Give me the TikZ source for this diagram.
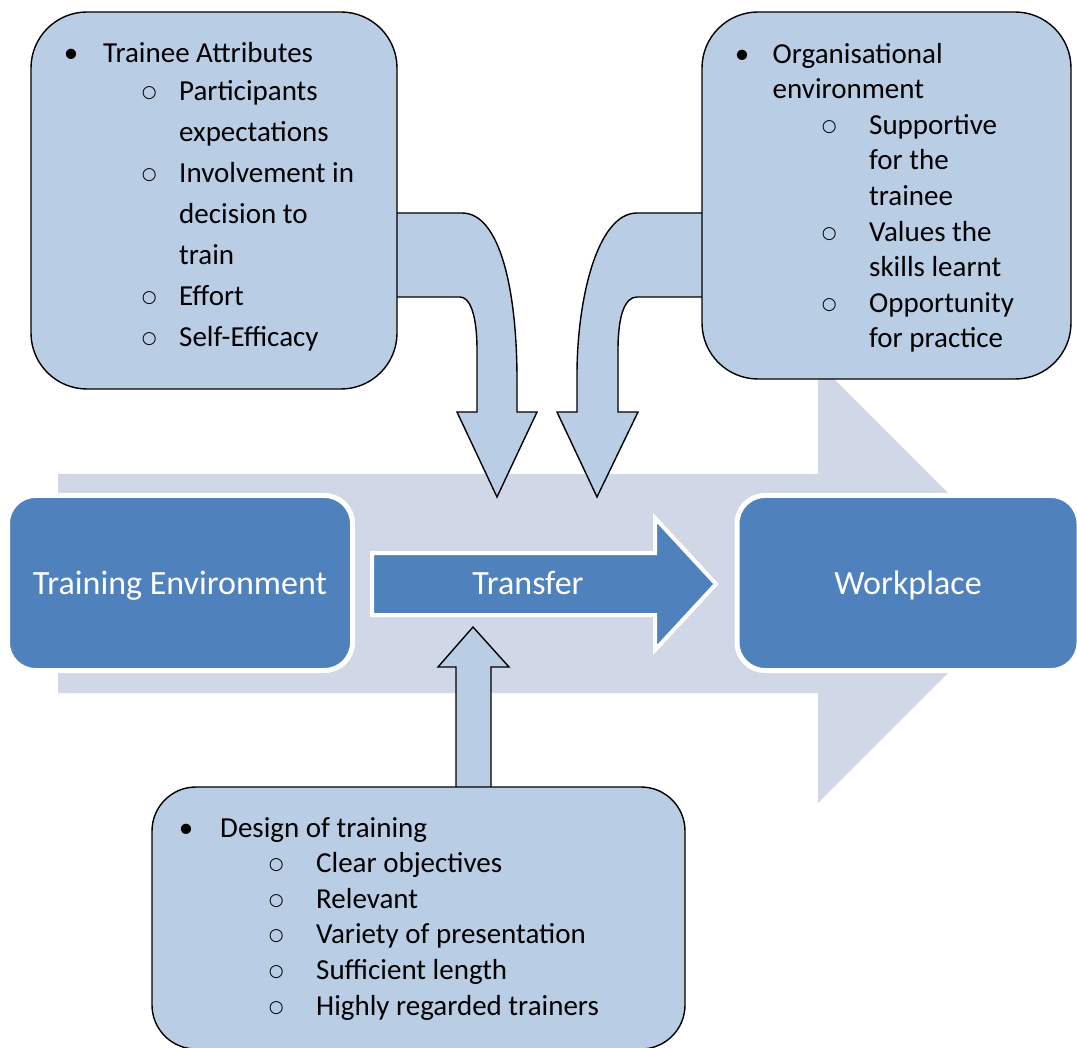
\documentclass[tikz,border=0pt]{standalone}
\usepackage{fontspec}
\setmainfont{Carlito}
\newfontfamily\markfont{DejaVu Sans}

\definecolor{panelblue}{HTML}{B9CDE5}
\definecolor{flowgrey}{HTML}{D0D8E8}
\definecolor{stageblue}{HTML}{4F81BD}

% list markers
\newcommand{\bul}{\makebox[0pt]{\textbullet}}
\newcommand{\hol}{\makebox[0pt]{\raisebox{3pt}{\markfont\fontsize{17pt}{17pt}\selectfont ○}}}

\tikzset{
  stage/.style={draw=white, line width=5pt, fill=stageblue, rounded corners=28pt,
    text=white, font=\fontsize{34pt}{40pt}\selectfont, text height=22pt, text depth=0pt},
  panel/.style={draw=black, line width=1.4pt, fill=panelblue, rounded corners=56pt},
  blockarrow/.style={draw=black, line width=1.4pt, fill=panelblue, line join=miter},
  listtext/.style={anchor=base west, inner sep=0pt, align=left},
}

\begin{document}
\begin{tikzpicture}[x=1pt, y=-1pt]
    \useasboundingbox (0,0) rectangle (1077,1048);

    % Wide background arrow
    \fill[flowgrey] (58,474) -- (818,474) -- (818,363) -- (1038,583) -- (818,803)
        -- (818,693) -- (58,693) -- cycle;

    % Stages
    \node[stage, minimum width=345pt, minimum height=175pt] (train) at (180,583)
        {Training Environment};
    \node[stage, minimum width=342pt, minimum height=175pt] (work) at (908,583)
        {Workplace};

    % Transfer arrow between the stages
    \path[draw=white, line width=4pt, fill=stageblue, line join=miter] (372,553)
        -- (655,553) -- (655,518) -- (716,584) -- (655,650) -- (655,615)
        -- (372,615) -- cycle;
    \node[text=white, font=\fontsize{34pt}{40pt}\selectfont, text height=22pt,
        text depth=0pt] (transfer) at (528,583) {Transfer};

    % Influences pointing into the transfer
    \draw[blockarrow] (390,213) -- (462,213) .. controls (500,213) and (517,290)
        .. (517,380) -- (517,412) -- (537,412) -- (497,497) -- (457,412)
        -- (477,412) -- (477,350) .. controls (477,315) and (470,297)
        .. (460,297) -- (390,297);
    \draw[blockarrow] (710,213) -- (637,213) .. controls (597,213) and (577,300)
        .. (577,375) -- (577,412) -- (557,412) -- (597,497) -- (638,412)
        -- (618,412) -- (618,350) .. controls (618,315) and (625,297)
        .. (637,297) -- (710,297);
    \draw[blockarrow] (456,800) -- (456,667) -- (438,667) -- (473,627)
        -- (509,667) -- (491,667) -- (491,800);

    % Factor panels
    \node[panel, minimum width=366pt, minimum height=377pt] (trainee) at (214,200.5) {};
    \node[panel, minimum width=369pt, minimum height=367pt] (org) at (886.5,195.5) {};
    \node[panel, rounded corners=44pt, minimum width=533pt, minimum height=262pt]
        (design) at (418.5,918) {};

    % lists sit on the baseline of their last line
    \node[listtext, font=\fontsize{29pt}{41pt}\selectfont] (traineelist) at (71,347)
        {\bul\hspace{32pt}Trainee Attributes\\[-3pt]
        \hspace*{78pt}\hol\hspace{30pt}Participants\\
        \hspace*{108pt}expectations\\
        \hspace*{78pt}\hol\hspace{30pt}Involvement in\\
        \hspace*{108pt}decision to\\
        \hspace*{108pt}train\\
        \hspace*{78pt}\hol\hspace{30pt}Effort\\
        \hspace*{78pt}\hol\hspace{30pt}Self-Efficacy};

    \node[listtext, font=\fontsize{29pt}{35.6pt}\selectfont] (orglist) at (742,348)
        {\bul\hspace{30.5pt}Organisational\\
        \hspace*{30.5pt}environment\\
        \hspace*{87pt}\hol\hspace{40pt}Supportive\\
        \hspace*{127pt}for the\\
        \hspace*{127pt}trainee\\
        \hspace*{87pt}\hol\hspace{40pt}Values the\\
        \hspace*{127pt}skills learnt\\
        \hspace*{87pt}\hol\hspace{40pt}Opportunity\\
        \hspace*{127pt}for practice};

    \node[listtext, font=\fontsize{29pt}{35.6pt}\selectfont] (designlist) at (186,1015)
        {\bul\hspace{34pt}Design of training\\
        \hspace*{90pt}\hol\hspace{40pt}Clear objectives\\
        \hspace*{90pt}\hol\hspace{40pt}Relevant\\
        \hspace*{90pt}\hol\hspace{40pt}Variety of presentation\\
        \hspace*{90pt}\hol\hspace{40pt}Sufficient length\\
        \hspace*{90pt}\hol\hspace{40pt}Highly regarded trainers};
\end{tikzpicture}
\end{document}
